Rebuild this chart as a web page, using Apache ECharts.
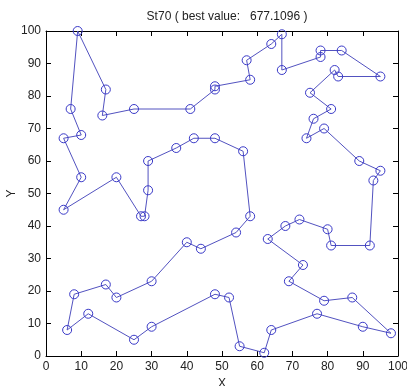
<!DOCTYPE html>
<html>
<head>
<meta charset="utf-8">
<script src="https://cdn.jsdelivr.net/npm/echarts@6/dist/echarts.min.js"></script>
<style>
  html, body { margin: 0; padding: 0; background: #fff; }
  #main { width: 407px; height: 386px; }
</style>
</head>
<body>
<div id="main"></div>
<script>
// tour order of the st70 cities
var tourX = [9, 17, 16, 25, 41, 48, 48, 58, 57, 64, 67, 67, 78, 78, 84, 95, 83, 82, 75, 81,
             76, 74, 79, 89, 95, 93, 92, 81, 80, 72, 68, 63, 73, 69, 79, 87, 98, 90, 77, 64,
             62, 55, 52, 48, 30, 25, 12, 6, 8, 17, 20, 30, 40, 44, 54, 58, 56, 48, 42, 37,
             29, 29, 28, 27, 20, 5, 10, 5, 10, 7];
var tourY = [100, 82, 74, 76, 76, 82, 83, 85, 91, 96, 99, 88, 92, 94, 94, 86, 86, 88, 81, 76,
             73, 67, 70, 60, 57, 54, 34, 34, 39, 42, 40, 36, 28, 23, 17, 18, 7, 9, 13, 8,
             1, 3, 18, 19, 9, 5, 13, 8, 19, 22, 18, 23, 35, 33, 38, 43, 63, 67, 67, 64,
             60, 51, 43, 43, 55, 45, 55, 67, 68, 76];
var axisTicks = [0, 10, 20, 30, 40, 50, 60, 70, 80, 90, 100];
var bestValue = '677.1096';

var pts = tourX.map(function (x, i) { return [x, tourY[i]]; });
// close the tour, without drawing the first circle twice
pts.push({ value: pts[0], symbol: 'none' });

var myChart = echarts.init(document.getElementById('main'));
var fontFam = 'Liberation Sans, Arial, sans-serif';

var tickAxis = function (pos) {
    return {
        type: 'value',
        position: pos,
        min: 0,
        max: 100,
        interval: 10,
        splitLine: { show: false },
        axisLine: { show: true, onZero: false, lineStyle: { color: '#000', width: 1 } },
        axisTick: { show: true, inside: true, length: 5, lineStyle: { color: '#000' } },
        axisLabel: { show: false }
    };
};

var option = {
    animation: false,
    backgroundColor: '#fff',
    title: {
        text: 'St70 ( best value:   ' + bestValue + ' )',
        left: 222,
        textAlign: 'center',
        top: 6,
        textStyle: { fontSize: 12, fontWeight: 'normal', color: '#222', fontFamily: fontFam }
    },
    grid: { left: 46, right: 9, top: 31, bottom: 30, containLabel: false, outerBoundsMode: 'none' },
    xAxis: [
        {
            type: 'value',
            min: 0,
            max: 100,
            interval: 10,
            name: 'X',
            nameLocation: 'middle',
            nameGap: 22,
            nameMoveOverlap: false,
            nameTextStyle: { fontSize: 12, color: '#222', fontFamily: fontFam },
            splitLine: { show: false },
            axisLine: { show: true, onZero: false, lineStyle: { color: '#000', width: 1 } },
            axisTick: { show: true, inside: true, length: 5, lineStyle: { color: '#000' } },
            axisLabel: {
                show: true, margin: 5, fontSize: 12, color: '#222', fontFamily: fontFam,
                formatter: function (v) { return axisTicks.indexOf(v) >= 0 ? String(v) : ''; }
            }
        },
        tickAxis('top')
    ],
    yAxis: [
        {
            type: 'value',
            min: 0,
            max: 100,
            interval: 10,
            name: 'Y',
            nameLocation: 'middle',
            nameGap: 34,
            nameRotate: 90,
            nameMoveOverlap: false,
            nameTextStyle: { fontSize: 12, color: '#222', fontFamily: fontFam, verticalAlign: 'middle' },
            splitLine: { show: false },
            axisLine: { show: true, onZero: false, lineStyle: { color: '#000', width: 1 } },
            axisTick: { show: true, inside: true, length: 5, lineStyle: { color: '#000' } },
            axisLabel: {
                show: true, margin: 5, fontSize: 12, color: '#222', fontFamily: fontFam,
                formatter: function (v) { return axisTicks.indexOf(v) >= 0 ? String(v) : ''; }
            }
        },
        tickAxis('right')
    ],
    series: [
        {
            type: 'line',
            data: pts,
            xAxisIndex: 0,
            yAxisIndex: 0,
            showSymbol: true,
            symbol: 'circle',
            symbolSize: 9,
            lineStyle: { color: '#5252c0', width: 1 },
            itemStyle: { color: 'rgba(0,0,0,0)', borderColor: '#3a3ac8', borderWidth: 1 },
            emphasis: { disabled: true },
            clip: false
        }
    ]
};
myChart.setOption(option);
</script>
</body>
</html>
